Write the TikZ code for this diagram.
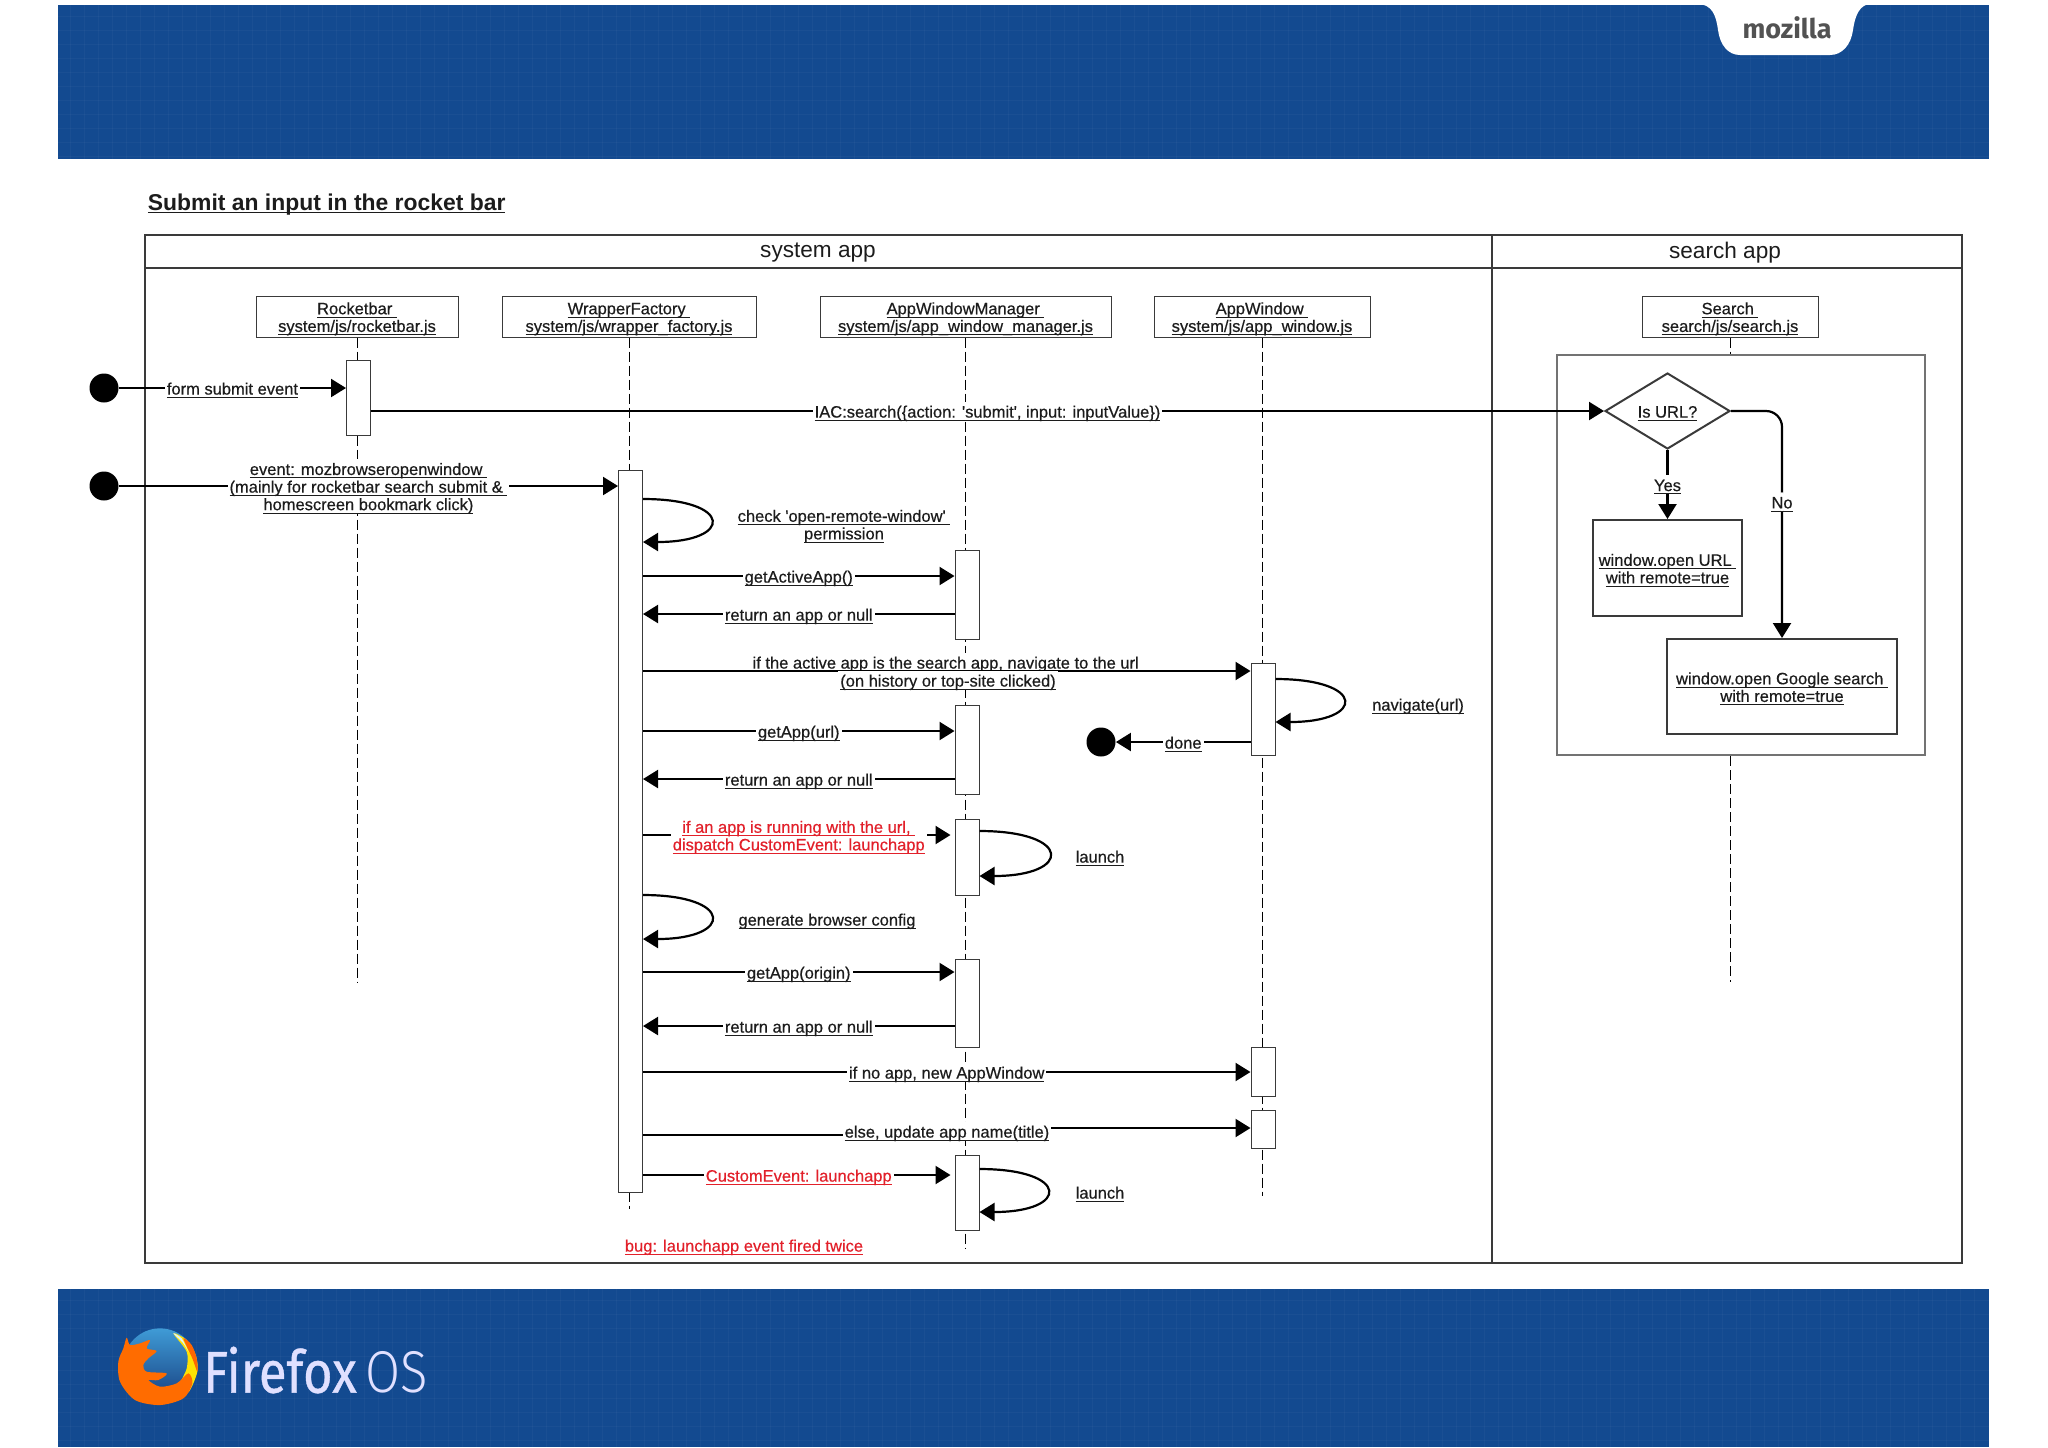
\documentclass[tikz,border=0pt]{standalone}
\usepackage{fontspec}
\usepackage{xcolor}
\usetikzlibrary{positioning,shapes.geometric,arrows.meta}
\newfontfamily\labelfont{Liberation Sans}[FakeBold=0.5]
\newfontfamily\panelfont{Liberation Sans}
\newfontfamily\logofont{Fira Sans}
\newfontfamily\logoheavy{Fira Sans}[FakeBold=0.7]
\newfontfamily\logolight{Fira Sans Light}
\definecolor{bannerblue}{HTML}{134A90}
\definecolor{inkdark}{HTML}{1C1C1C}
\definecolor{framegrey}{HTML}{3A3A3A}
\definecolor{bugred}{HTML}{E2202A}
\definecolor{globetop}{HTML}{3F9BD6}
\definecolor{globelow}{HTML}{173F80}
\newcommand{\ulab}[1]{\vphantom{Ag}\smash{\raisebox{-1.3pt}{\underline{\smash{#1}}}}}

\begin{document}
\begin{tikzpicture}[
    x=0.5pt, y=-0.5pt,
    font=\labelfont\fontsize{8.25}{8.8}\selectfont, text=inkdark,
    lifehead/.style ={draw=framegrey, fill=white, line width=0.5pt, minimum height=20.5pt, inner sep=0pt, align=center},
    lifeline/.style ={draw=black, line width=0.5pt, dash pattern=on 5pt off 2pt},
    actbar/.style   ={draw=framegrey, fill=white, line width=0.5pt, minimum width=12pt, inner sep=0pt, anchor=north},
    msg/.style      ={draw=black, line width=1.1pt, -{Triangle[length=7.5pt,width=9pt]}},
    msglab/.style   ={fill=white, inner sep=1pt, align=center},
    plainlab/.style ={inner sep=1pt, align=center},
    buglab/.style   ={text=bugred},
    endpoint/.style ={circle, fill=black, minimum size=14.5pt, inner sep=0pt},
    flowbox/.style  ={draw=framegrey, fill=white, line width=1pt, inner sep=0pt, align=center},
  ]
  \useasboundingbox (0,0) rectangle (2048,1447);

  % ---- banners with a faint woven grid ----
  \fill[bannerblue] (58,5) rectangle (1989,159);
  \fill[bannerblue] (58,1289) rectangle (1989,1447);
  \foreach \x in {70,84,...,1985} {
    \draw[white, opacity=0.03, line width=0.5pt] (\x,5) -- (\x,159);
    \draw[white, opacity=0.03, line width=0.5pt] (\x,1289) -- (\x,1447);
  }
  \foreach \y in {16,30,...,156}
    \draw[white, opacity=0.03, line width=0.5pt] (58,\y) -- (1989,\y);
  \foreach \y in {1300,1314,...,1445}
    \draw[white, opacity=0.03, line width=0.5pt] (58,\y) -- (1989,\y);

  % ---- mozilla tab ----
  \fill[white] (1697,4) .. controls (1712,4) and (1716,15) .. (1718,30)
    .. controls (1720,45) and (1728,55) .. (1740,55) -- (1830,55)
    .. controls (1842,55) and (1851,45) .. (1853,30)
    .. controls (1855,15) and (1860,4) .. (1871,4) -- cycle;
  \node[text=black!68, font=\logofont\bfseries\fontsize{13.5}{14}\selectfont] (moztext) at (1787,28) {mozilla};

  % ---- Firefox OS logo ----
  \begin{scope}[shift={(105,1315)}, x=0.1667pt, y=-0.1667pt]
    \shade[top color=globetop, bottom color=globelow] (165,150) circle (110);
    \fill[yellow!85!orange] plot[smooth cycle] coordinates {(205,55) (245,75) (272,120) (277,170) (250,232) (225,210) (245,160) (245,110)};
    \fill[orange!80!red] plot[smooth cycle] coordinates {(235,70) (260,90) (275,130) (277,170) (262,130)};
    \fill[white!85!cyan] plot[smooth cycle] coordinates {(205,55) (230,70) (250,110) (235,85)};
    \fill[orange!85!red] plot[smooth cycle] coordinates {(65,68) (75,90) (105,85) (135,75) (125,100) (155,108) (130,130) (115,150) (125,170) (185,175) (160,195) (130,195) (165,215) (215,205) (250,175) (262,205) (235,250) (165,270) (90,255) (45,200) (40,140) (55,100)};
  \end{scope}
  \node[text=white!88!blue, anchor=west, inner sep=0pt, xscale=0.86, font=\logoheavy\fontsize{29.5}{30}\selectfont] (fxtext) at (203,1370) {Firefox\,{\logolight OS}};

  % ---- title and outer frame ----
  \node[anchor=west, inner sep=0pt, font=\panelfont\bfseries\fontsize{11.45}{12}\selectfont] (title) at (147.5,202) {\ulab{Submit an input in the rocket bar}};
  \draw[framegrey, line width=1pt] (144.5,235) rectangle (1962,1263);
  \draw[framegrey, line width=1pt] (144.5,268) -- (1962,268);
  \draw[framegrey, line width=1pt] (1492,235) -- (1492,1263);
  \node[font=\panelfont\fontsize{11.3}{12}\selectfont] (sysapp) at (818,253) {system app};
  \node[font=\panelfont\fontsize{11.3}{12}\selectfont] (srchapp) at (1725,253) {search app};

  % ---- lifeline heads + dashed lines ----
  \foreach \who/\xc/\bw/\cls/\src/\yend in {
      rocketbar/357/101/{Rocketbar\ }/{system/js/rocketbar.js}/982,
      wrapfac/629/127/{WrapperFactory\ }/{system/js/wrapper\_factory.js}/1209,
      winmgr/965.5/145.5/{AppWindowManager\ }/{system/js/app\_window\_manager.js}/1249,
      appwin/1262/108/{AppWindow\ }/{system/js/app\_window.js}/1196} {
    \node[lifehead, minimum width=\bw pt] (\who) at (\xc,316.5) {\ulab{\cls}\\\ulab{\src}};
    \draw[lifeline] (\who.south) -- (\who |- 0,\yend);
  }
  \node[lifehead, minimum width=88pt] (search) at (1730,316.5) {\ulab{Search\ }\\\ulab{search/js/search.js}};

  % ---- search app flow ----
  \node[draw=black!55, line width=1pt, minimum width=184pt, minimum height=200pt, inner sep=0pt] (flowframe) at (1741,555) {};
  \draw[lifeline] (search.south) -- (flowframe.north -| search);
  \draw[lifeline] (flowframe.south -| search) -- (search |- 0,982);
  \node[flowbox, diamond, aspect=1.6, minimum width=62.5pt, minimum height=38pt] (urlcheck) at (1667.5,411) {\ulab{Is URL?}};
  \node[flowbox, minimum width=74.5pt, minimum height=48pt] (urlbox) at (1667.5,568) {\ulab{window.open URL\ }\\\ulab{with remote=true}};
  \node[flowbox, minimum width=115pt, minimum height=47.5pt] (gglbox) at (1782,686.5) {\ulab{window.open Google search\ }\\\ulab{with remote=true}};
  \draw[msg] (urlcheck.south) -- node[msglab] (yeslab) {\ulab{Yes}} (urlbox.north);
  \draw[msg, rounded corners=8pt] (urlcheck.east) -| node[msglab, pos=0.7] (nolab) {\ulab{No}} (gglbox.north);

  % ---- activation bars ----
  \foreach \who/\xc/\ya/\yb in {
      rbbar/358.5/360/435, wfbar/630.5/470/1192,
      mgrA/967/550/639, mgrB/967/705/794, mgrC/967/819/895, mgrD/967/959/1047, mgrE/967/1155/1230,
      winA/1263/663/755, winB/1263/1047/1096, winC/1263/1110/1148}
    \node[actbar, minimum height={(\yb-\ya)*0.5pt}] (\who) at (\xc,\ya) {};

  % ---- outside events ----
  \node[endpoint] (startA) at (104,388) {};
  \node[endpoint] (startB) at (104,486) {};
  \node[endpoint] (stopA) at (1101,742) {};
  \draw[msg] (startA) -- node[msglab] (formlab) {\ulab{form submit event}} (rbbar.west |- startA);
  \draw[msg] (startB) -- node[msglab] (openlab) {\ulab{event: mozbrowseropenwindow\ }\\\ulab{(mainly for rocketbar search submit \&\ }\\\ulab{homescreen bookmark click)}} (wfbar.west |- startB);
  \draw[msg] (rbbar.east |- urlcheck) -- node[msglab] (iaclab) {\ulab{IAC:search(\{action: 'submit', input: inputValue\})}} (urlcheck.west);
  \draw[msg] (winA.west |- stopA) -- node[msglab] (donelab) {\ulab{done}} (stopA);

  % ---- plain messages between bars ----
  \foreach \y/\from/\dest/\lab in {
      576/wfbar.east/mgrA.west/{getActiveApp()},
      614/mgrA.west/wfbar.east/{return an app or null},
      731/wfbar.east/mgrB.west/{getApp(url)},
      779/mgrB.west/wfbar.east/{return an app or null},
      972/wfbar.east/mgrD.west/{getApp(origin)},
      1026/mgrD.west/wfbar.east/{return an app or null},
      1072/wfbar.east/winB.west/{if no app, new AppWindow}}
    \draw[msg] (\from |- 0,\y) -- node[msglab] {\ulab{\lab}} (\dest |- 0,\y);

  % ---- messages with odd labels ----
  \node[msglab] (activeA) at (948,662) {\ulab{if the active app is the search app, navigate to the url\ }};
  \draw[msg] (wfbar.east |- 0,671) -- (winA.west |- 0,671);
  \node[msglab] (activeB) at (948,680) {\ulab{(on history or top-site clicked)}};
  \draw[msg] (wfbar.east |- 0,1135) -- (947,1135) -- (947,1128) -- (winC.west |- 0,1128);
  \node[msglab] (elselab) at (947,1131) {\ulab{else, update app name(title)}};
  \draw[msg, shorten >=2pt] (wfbar.east |- 0,835) -- node[msglab, buglab] (runlab) {\ulab{if an app is running with the url,\ }\\\ulab{dispatch CustomEvent: launchapp}} (mgrC.west |- 0,835);
  \draw[msg, shorten >=2pt] (wfbar.east |- 0,1175) -- node[msglab, buglab] (cevlab) {\ulab{CustomEvent: launchapp}} (mgrE.west |- 0,1175);

  % ---- self calls ----
  \foreach \who/\ya/\yb/\lk in {wfbar/499/542/5.4, wfbar/895/939/5.3, mgrC/831/876/5.3, mgrE/1169/1212/5.4, winA/679/722/5.4}
    \draw[msg] (\who.east |- 0,\ya) to[out=0, in=0, looseness=\lk] (\who.east |- 0,\yb);
  \node[plainlab] (checklab) at (844,524) {\ulab{check 'open-remote-window'\ }\\\ulab{permission}};
  \node[plainlab] (genlab) at (827,919) {\ulab{generate browser config}};
  \node[plainlab] (navlab) at (1418,704) {\ulab{navigate(url)}};
  \node[plainlab] (launchA) at (1100,856) {\ulab{launch}};
  \node[plainlab] (launchB) at (1100,1192) {\ulab{launch}};
  \node[plainlab, buglab] (buglabel) at (744,1245) {\ulab{bug: launchapp event fired twice}};
\end{tikzpicture}
\end{document}
